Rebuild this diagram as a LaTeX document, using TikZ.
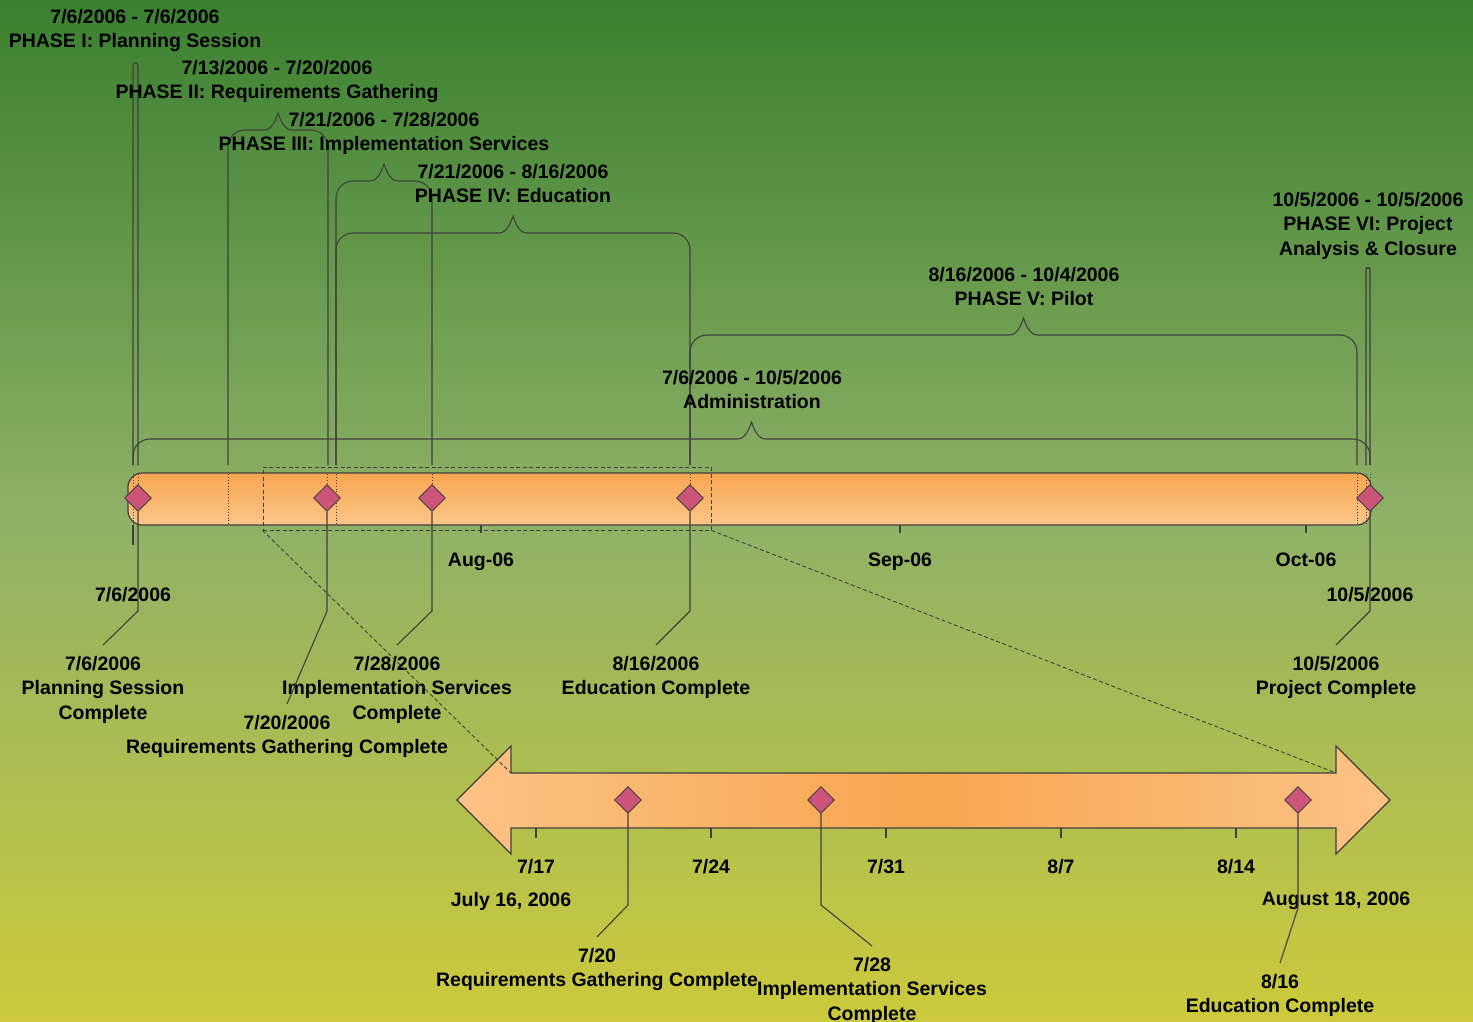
\documentclass[tikz,border=0pt]{standalone}
\usepackage{fontspec}
\setmainfont{Liberation Sans}
\usepackage{xcolor}
\usepackage{tikz}
\usetikzlibrary{shapes.geometric, positioning}
\definecolor{bgtop}{RGB}{58,128,48}
\definecolor{bgmid}{RGB}{142,176,102}
\definecolor{bgbot}{RGB}{204,202,60}
\definecolor{bartop}{RGB}{248,166,80}
\definecolor{barbot}{RGB}{252,198,138}
\definecolor{arrend}{RGB}{252,194,134}
\definecolor{arrmid}{RGB}{247,166,78}
\definecolor{mscol}{RGB}{204,84,120}
\definecolor{linecol}{RGB}{64,64,64}
\tikzset{every node/.style={font=\fontsize{19.5}{24.5}\selectfont\bfseries}}

\begin{document}
\begin{tikzpicture}[x=1pt, y=-1pt]
    % Define styles
    \tikzstyle{txt} = [align=center, inner sep=0pt, anchor=north, text=black]
    \tikzstyle{ms} = [diamond, draw=linecol, fill=mscol, minimum size=27pt, inner sep=0pt, line width=0.9pt]
    \tikzstyle{leg} = [draw=linecol, line width=1.1pt]
    \tikzstyle{inbar} = [draw=linecol, line width=0.9pt, dotted]
    \tikzstyle{zline} = [draw=linecol, line width=0.9pt, dash pattern=on 4pt off 2.5pt]

    % Background
    \useasboundingbox (0,0) rectangle (1473,1022);
    \shade [top color=bgtop, bottom color=bgbot, middle color=bgmid] (0,0) rectangle (1473,1022);

    % Main bar
    \shade [draw=linecol, line width=1.2pt, top color=bartop, bottom color=barbot, rounded corners=14pt] (128,473) rectangle (1371,525);
    \foreach \x in {133,228,336,1357,1366}
        \draw [inbar] (\x,474) -- (\x,524);
    \foreach \x/\t in {481/Aug-06, 900/Sep-06, 1306/Oct-06} {
        \draw [leg] (\x,525) -- (\x,533);
        \node (mo\x) [txt] at (\x,553) {\t};
    }
    \draw [leg] (133,525) -- (133,545);

    % Phase braces
    \draw [leg, rounded corners=2.5pt] (133,465) -- (133,63) -- (138,63) -- (138,465);
    \draw [leg, rounded corners=2.5pt] (1366,465) -- (1366,268) -- (1370,268) -- (1370,465);
    \foreach \xa/\xb/\yp in {228/328/113, 336/432/164, 336/690/216, 690/1357/318, 133/1370/422} {
        \pgfmathsetmacro\xm{(\xa+\xb)/2}
        \pgfmathsetmacro\yh{\yp+17}
        \draw [leg] (\xa,465) -- (\xa,\yh+17) .. controls (\xa,\yh+7.6) and (\xa+7.6,\yh) .. (\xa+17,\yh)
            -- (\xm-14,\yh) .. controls (\xm-6,\yh) and (\xm-2,\yp+6) .. (\xm,\yp)
            .. controls (\xm+2,\yp+6) and (\xm+6,\yh) .. (\xm+14,\yh)
            -- (\xb-17,\yh) .. controls (\xb-7.6,\yh) and (\xb,\yh+7.6) .. (\xb,\yh+17) -- (\xb,465);
    }

    % Phase labels
    \node (ph1) [txt] at (135,9) {7/6/2006 - 7/6/2006\\PHASE I: Planning Session};
    \node (ph2) [txt] at (277,60) {7/13/2006 - 7/20/2006\\PHASE II: Requirements Gathering};
    \node (ph3) [txt] at (384,112) {7/21/2006 - 7/28/2006\\PHASE III: Implementation Services};
    \node (ph4) [txt] at (513,164) {7/21/2006 - 8/16/2006\\PHASE IV: Education};
    \node (ph5) [txt] at (1024,267) {8/16/2006 - 10/4/2006\\PHASE V: Pilot};
    \node (ph6) [txt] at (1368,192) {10/5/2006 - 10/5/2006\\PHASE VI: Project\\Analysis \& Closure};
    \node (adm) [txt] at (752,370) {7/6/2006 - 10/5/2006\\Administration};

    % Milestones on the bar
    \node (m1) [ms] at (138,498) {};
    \node (m2) [ms] at (327,498) {};
    \node (m3) [ms] at (432,498) {};
    \node (m4) [ms] at (690,498) {};
    \node (m5) [ms] at (1370,498) {};
    \foreach \m/\x in {m1/138, m2/327, m3/432, m4/690, m5/1370}
        \draw [inbar] (\x,474) -- (\m.north);

    % Bar dates and milestone texts
    \node (start) [txt] at (133,587) {7/6/2006};
    \node (finish) [txt] at (1370,587) {10/5/2006};
    \node (t1) [txt] at (103,656) {7/6/2006\\Planning Session\\Complete};
    \node (t2) [txt] at (287,715) {7/20/2006\\Requirements Gathering Complete};
    \node (t3) [txt] at (397,656) {7/28/2006\\Implementation Services\\Complete};
    \node (t4) [txt] at (656,656) {8/16/2006\\Education Complete};
    \node (t5) [txt] at (1336,656) {10/5/2006\\Project Complete};

    % Milestone callouts
    \draw [leg] (m1) -- ++(0,113) -- ([yshift=11pt]t1.north);
    \draw [leg] (m2) -- ++(0,113) -- ([yshift=11pt]t2.north);
    \draw [leg] (m3) -- ++(0,113) -- ([yshift=11pt]t3.north);
    \draw [leg] (m4) -- ++(0,113) -- ([yshift=11pt]t4.north);
    \draw [leg] (m5) -- ++(0,113) -- ([yshift=11pt]t5.north);

    % Zoomed arrow
    \shade [draw=linecol, line width=1.1pt, left color=arrend, right color=arrend, middle color=arrmid]
        (457,800) -- (511,746) -- (511,773) -- (1336,773) -- (1336,746) -- (1390,800)
        -- (1336,854) -- (1336,828) -- (511,828) -- (511,854) -- cycle;
    \coordinate (aleft) at (511,773);
    \coordinate (aright) at (1336,773);
    \foreach \x/\m/\d in {536/7/17, 711/7/24, 886/7/31, 1061/8/7, 1236/8/14} {
        \draw [leg] (\x,828) -- (\x,838);
        \node (tk\x) [txt] at (\x,859) {\m/\d};
    }
    \node (zstart) [txt] at (511,892) {July 16, 2006};
    \node (zend) [txt] at (1336,892) {August 18, 2006};

    % Zoom box
    \node (zbox) [zline, minimum width=448pt, minimum height=63pt, inner sep=0pt] at (487,498.5) {};
    \draw [zline] (zbox.south west) -- (aleft);
    \draw [zline] (zbox.south east) -- (aright);

    % Milestones on the arrow
    \node (n1) [ms] at (628,800) {};
    \node (n2) [ms] at (821,800) {};
    \node (n3) [ms] at (1298,800) {};
    \node (u1) [txt] at (597,948) {7/20\\Requirements Gathering Complete};
    \node (u2) [txt] at (872,957) {7/28\\Implementation Services\\Complete};
    \node (u3) [txt] at (1280,974) {8/16\\Education Complete};
    \draw [leg] (n1) -- ++(0,105) -- ([yshift=11pt]u1.north);
    \draw [leg] (n2) -- ++(0,105) -- ([yshift=11pt]u2.north);
    \draw [leg] (n3) -- ++(0,108) -- ([yshift=11pt]u3.north);
\end{tikzpicture}
\end{document}
